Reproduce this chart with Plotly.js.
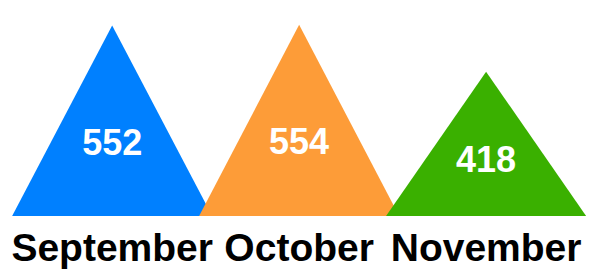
<!DOCTYPE html>
<html>
<head>
<meta charset="utf-8">
<script src="https://cdn.plot.ly/plotly-3.0.1.min.js"></script>
<style>html,body{margin:0;padding:0;background:#fff;}#chart{width:602px;height:278px;}</style>
</head>
<body>
<div id="chart"></div>
<script>
const categories = ["September", "October", "November"];
const values = [552, 554, 418];
const colors = ["#0080ff", "#fd9c38", "#3ab000"];

const halfWidth = 0.535;
const labelFrac = 0.37;
const FONT = "Liberation Sans, Arial, Helvetica, sans-serif";

const traces = categories.map((c, i) => ({
  type: "scatter",
  mode: "lines",
  x: [i - halfWidth, i, i + halfWidth, i - halfWidth],
  y: [0, values[i], 0, 0],
  fill: "toself",
  fillcolor: colors[i],
  line: {width: 0, color: colors[i]},
  hoverinfo: "skip",
  showlegend: false
}));

traces.push({
  type: "scatter",
  mode: "text",
  x: categories.map((c, i) => i),
  y: values.map(v => v * labelFrac),
  text: values.map(String),
  textposition: "middle center",
  textfont: {family: FONT, size: 36, color: "#ffffff", weight: "bold"},
  hoverinfo: "skip",
  showlegend: false
});

const layout = {
  width: 602,
  height: 278,
  margin: {l: 0, r: 0, t: 0, b: 62},
  paper_bgcolor: "#ffffff",
  plot_bgcolor: "#ffffff",
  showlegend: false,
  xaxis: {
    range: [-0.6, 2.62],
    tickvals: categories.map((c, i) => i),
    ticktext: categories,
    tickfont: {family: FONT, size: 39, color: "#000000", weight: "bold"},
    ticklabelstandoff: 5,
    showgrid: false,
    zeroline: false,
    showline: false,
    ticks: "",
    fixedrange: true
  },
  yaxis: {
    range: [0, 626],
    visible: false,
    fixedrange: true
  }
};

Plotly.newPlot("chart", traces, layout, {displayModeBar: false, staticPlot: true});
</script>
</body>
</html>
